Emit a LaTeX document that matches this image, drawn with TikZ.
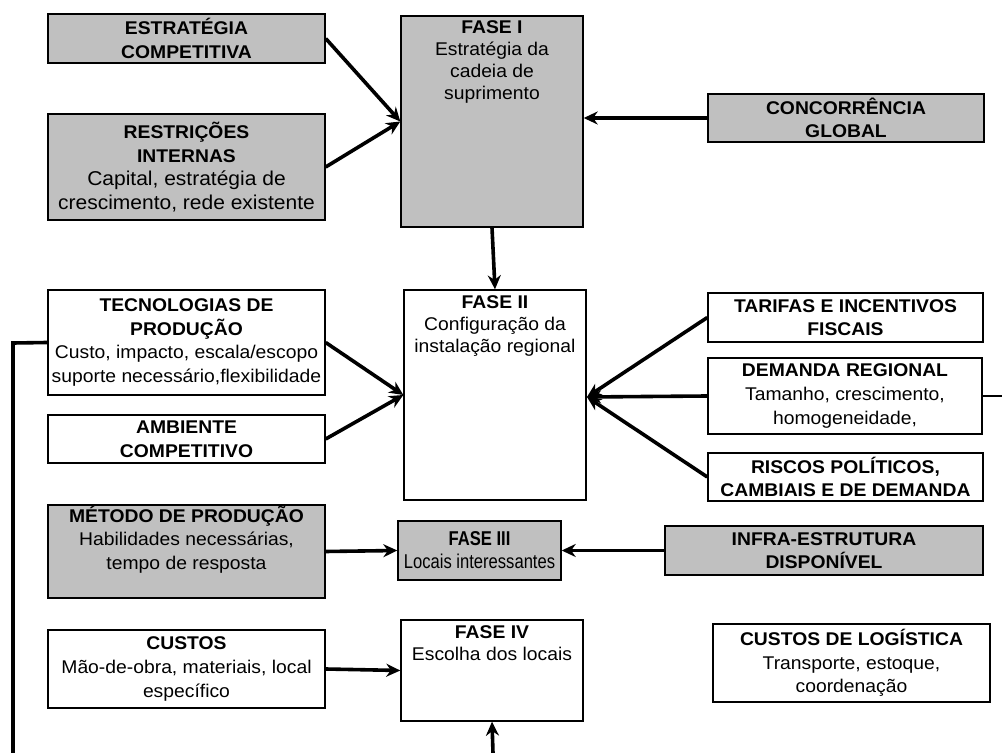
\documentclass[tikz,border=0pt]{standalone}
\usepackage{fontspec}
\setmainfont{Liberation Sans}[FakeStretch=1.05]
\newfontfamily\condfont{Liberation Sans}[FakeStretch=0.83]
\usetikzlibrary{arrows.meta,calc}
\definecolor{boxgray}{RGB}{192,192,192}
\begin{document}
\begin{tikzpicture}[x=0.5pt,y=-0.5pt,
  every node/.style={font=\fontsize{9.2}{11.8}\selectfont},
  box/.style={draw=black, line width=0.7pt, inner sep=0pt, align=center},
  gbox/.style={box, fill=boxgray},
  txt/.style={align=center, inner sep=0pt, anchor=north, font=\fontsize{9.2}{11}\selectfont},
  arr/.style={line width=1.8pt, -{Stealth[length=7pt,width=6.5pt]}},
  ln/.style={line width=1.8pt},
  thinln/.style={line width=0.9pt}]
\useasboundingbox (0,0) rectangle (1002,753);
% boxes
\node[gbox, minimum width=138.5pt, minimum height=24.5pt] (estr) at (186.5,38.5) {\textbf{ESTRATÉGIA}\\\textbf{COMPETITIVA}};
\node[gbox, minimum width=138.5pt, minimum height=53pt] (restr) at (186.5,167) {\textbf{RESTRIÇÕES}\\\textbf{INTERNAS}\\{\fontsize{10}{11.8}\selectfont Capital, estratégia de}\\{\fontsize{10}{11.8}\selectfont crescimento, rede existente}};
\node[gbox, minimum width=91pt, minimum height=105.5pt] (fase1) at (492,121.5) {};
\node[txt] (t1) at ([yshift=-2.5pt]fase1.north) {\textbf{FASE I}\\Estratégia da\\cadeia de\\suprimento};
\node[gbox, minimum width=138pt, minimum height=24pt] (conc) at (846,118) {\textbf{CONCORRÊNCIA}\\\textbf{GLOBAL}};
\node[box, minimum width=138.5pt, minimum height=52.5pt] (tec) at (186.5,342.5) {\textbf{TECNOLOGIAS DE}\\\textbf{PRODUÇÃO}\\Custo, impacto, escala/escopo\\suporte necessário,flexibilidade};
\node[box, minimum width=138.5pt, minimum height=24pt] (amb) at (186.5,439) {\textbf{AMBIENTE}\\\textbf{COMPETITIVO}};
\node[box, minimum width=91pt, minimum height=105pt] (fase2) at (495,395) {};
\node[txt] (t2) at ([yshift=-3pt]fase2.north) {\textbf{FASE II}\\Configuração da\\instalação regional};
\node[box, minimum width=137.5pt, minimum height=24.5pt] (tar) at (845.5,317.5) {\textbf{TARIFAS E INCENTIVOS}\\\textbf{FISCAIS}};
\node[box, minimum width=137pt, minimum height=38pt] (dem) at (845,396) {\textbf{DEMANDA REGIONAL}\\Tamanho, crescimento,\\homogeneidade,};
\node[box, minimum width=137.5pt, minimum height=24pt] (ris) at (845.5,477) {\textbf{RISCOS POLÍTICOS,}\\\textbf{CAMBIAIS E DE DEMANDA}};
\node[gbox, minimum width=138.5pt, minimum height=46.5pt] (met) at (186.5,551.5) {};
\node[txt, font=\fontsize{9.2}{11.8}\selectfont] (t3) at ([yshift=-0.5pt]met.north) {\textbf{MÉTODO DE PRODUÇÃO}\\Habilidades necessárias,\\tempo de resposta};
\node[gbox, minimum width=81.5pt, minimum height=29.5pt, font=\condfont\fontsize{10}{11.5}\selectfont] (fase3) at (479.5,550.5) {\textbf{FASE III}\\Locais interessantes};
\node[gbox, minimum width=159pt, minimum height=24.5pt] (infra) at (824,550.5) {\textbf{INFRA-ESTRUTURA}\\\textbf{DISPONÍVEL}};
\node[box, minimum width=138.5pt, minimum height=39pt] (custos) at (186.5,669) {\textbf{CUSTOS}\\Mão-de-obra, materiais, local\\específico};
\node[box, minimum width=91pt, minimum height=50.5pt] (fase4) at (492,670.5) {};
\node[txt] (t4) at ([yshift=-3pt]fase4.north) {\textbf{FASE IV}\\Escolha dos locais};
\node[box, minimum width=138.5pt, minimum height=39pt] (log) at (851.5,663) {\textbf{CUSTOS DE LOGÍSTICA}\\Transporte, estoque,\\coordenação};
% free ends
\coordinate (lcorner) at (13,343);
\coordinate (lbottom) at (13,753);
\coordinate (bfree) at (493,753);
\coordinate (rfree) at (1002,396);
\coordinate (tip2) at (587,397);
% connectors
\draw[arr] (estr.east) -- (fase1.west);
\draw[arr] (restr.east) -- (fase1.west);
\draw[arr] (conc.west) -- (conc.west -| fase1.east);
\draw[arr] (fase1.south) -- (fase2.north);
\draw[arr] (tec.east) -- (fase2.west);
\draw[arr] (amb.east) -- (fase2.west);
\draw[arr] (tar.west) -- (tip2);
\draw[arr] (dem.west) -- (tip2);
\draw[arr] (ris.west) -- (tip2);
\draw[thinln] (dem.east) -- (rfree);
\draw[ln] (tec.west) -- (lcorner) -- (lbottom);
\draw[arr] (met.east) -- (fase3.west);
\draw[arr] (infra.west) -- (fase3.east);
\draw[arr] (custos.east) -- (fase4.west);
\draw[arr] (bfree) -- (fase4.south);
\end{tikzpicture}
\end{document}
